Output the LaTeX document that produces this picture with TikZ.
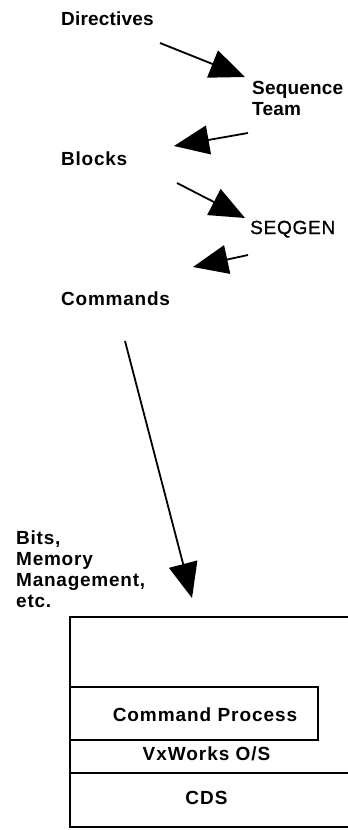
\documentclass[tikz,border=0pt]{standalone}
\usepackage{fontspec}
\setmainfont{Liberation Sans}
\usetikzlibrary{arrows.meta}
\begin{document}
\begin{tikzpicture}[x=1pt,y=-1pt,
  lbl/.style={anchor=base west,inner sep=0pt,align=left,
    font=\bfseries\fontsize{19}{20.7}\selectfont\addfontfeature{LetterSpace=4}},
  lbltight/.style={lbl,font=\bfseries\fontsize{19}{20.7}\selectfont\addfontfeature{LetterSpace=1}},
  lblreg/.style={anchor=base west,inner sep=0pt,
    font=\fontsize{19}{21}\selectfont\addfontfeature{LetterSpace=4,FakeBold=1}},
  boxlbl/.style={anchor=base,inner sep=0pt,
    font=\bfseries\fontsize{19}{20}\selectfont\addfontfeature{LetterSpace=5}},
  flow/.style={line width=1.8pt,-{Triangle[length=35pt,width=29pt]}},
  layer/.style={line width=1.2pt}]
\useasboundingbox (0,0) rectangle (348,830);
% labels
\node[lbltight] (dir) at (61,25) {Directives};
\node[lbltight] (seq) at (252,115) {Sequence\\Team};
\node[lbl] (blk) at (61,165) {Blocks};
\node[lblreg] (gen) at (250,234) {SEQGEN};
\node[lbl] (cmd) at (61,305) {Commands};
\node[lbl] (bits) at (16,607) {Bits,\\Memory\\Management,\\etc.};
% arrow ends
\coordinate (a1s) at (160,43);  \coordinate (a1e) at (245,77);
\coordinate (a2s) at (248,133); \coordinate (a2e) at (174,146);
\coordinate (a3s) at (177,183); \coordinate (a3e) at (245,218);
\coordinate (a4s) at (248,255); \coordinate (a4e) at (193,267);
\coordinate (a5s) at (125,341); \coordinate (a5e) at (192,598);
\draw[flow] (a1s) -- (a1e);
\draw[flow] (a2s) -- (a2e);
\draw[flow] (a3s) -- (a3e);
\draw[flow] (a4s) -- (a4e);
\draw[flow] (a5s) -- (a5e);
% layered box
\draw[layer] (350,617) -- (70,617) -- (70,827) -- (350,827);
\draw[layer] (70,773) -- (350,773);
\draw[layer] (70,687) rectangle (318,740);
\node[boxlbl] (cp) at (205,721) {Command Process};
\node[boxlbl] (vx) at (206.5,760) {VxWorks O/S};
\node[boxlbl] (cds) at (206.5,804) {CDS};
\end{tikzpicture}
\end{document}
